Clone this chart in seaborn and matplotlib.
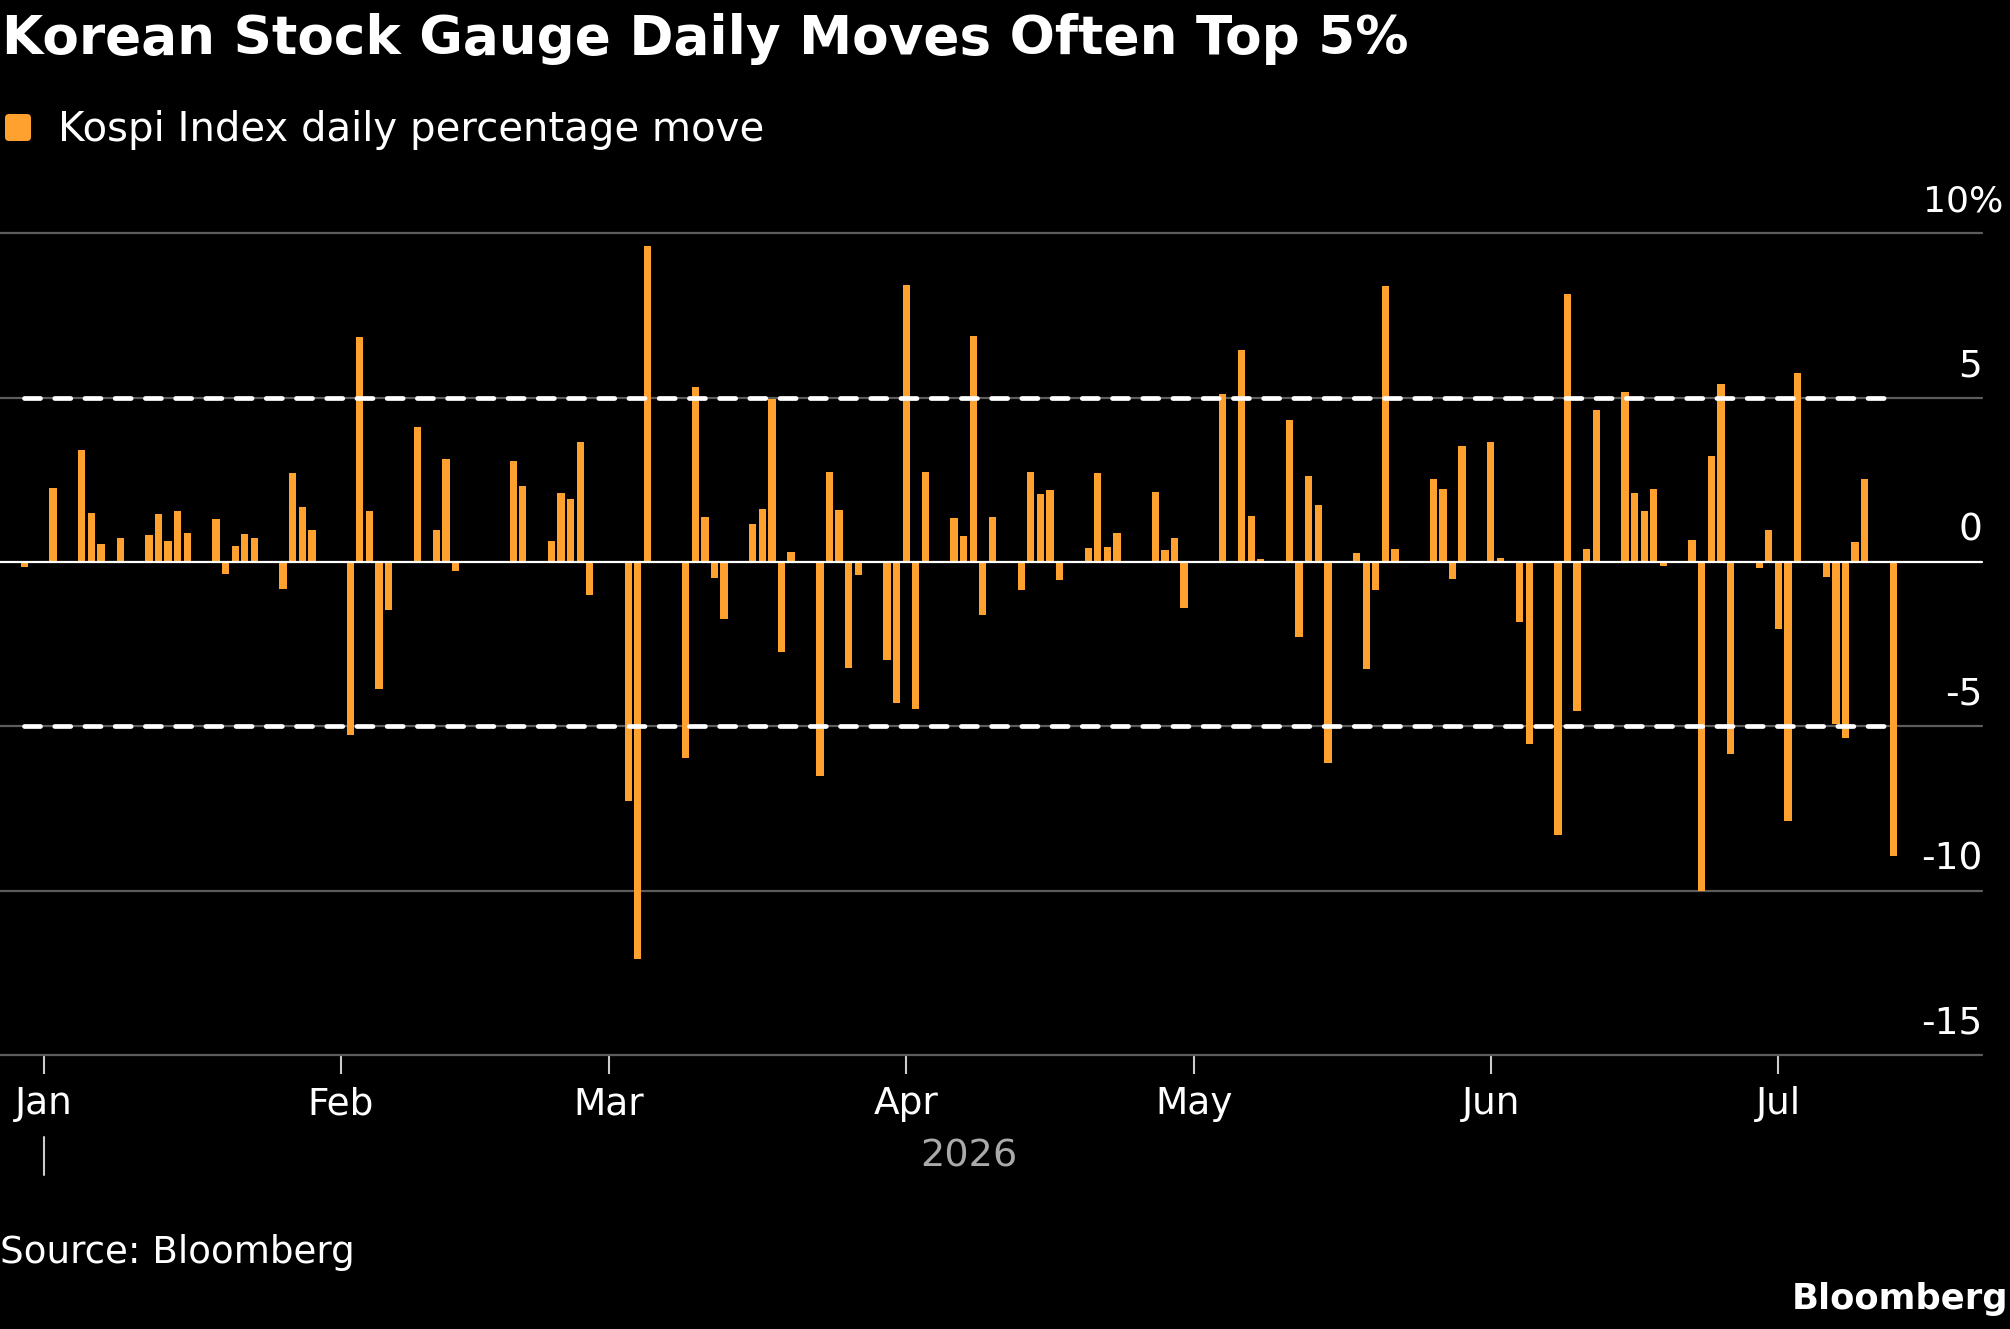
import matplotlib
matplotlib.use("Agg")
import numpy as np
import pandas as pd
import matplotlib.pyplot as plt
import matplotlib.dates as mdates
import matplotlib.transforms as mtransforms
from matplotlib.patches import FancyBboxPatch
import seaborn as sns

# daily Kospi moves (%)
dates = [
    "2025-12-30",
    "2026-01-02", "2026-01-05", "2026-01-06", "2026-01-07", "2026-01-08", "2026-01-09",
    "2026-01-12", "2026-01-13", "2026-01-14", "2026-01-15", "2026-01-16",
    "2026-01-19", "2026-01-20", "2026-01-21", "2026-01-22", "2026-01-23",
    "2026-01-26", "2026-01-27", "2026-01-28", "2026-01-29", "2026-01-30",
    "2026-02-02", "2026-02-03", "2026-02-04", "2026-02-05", "2026-02-06",
    "2026-02-09", "2026-02-10", "2026-02-11", "2026-02-12", "2026-02-13",
    "2026-02-19", "2026-02-20",
    "2026-02-23", "2026-02-24", "2026-02-25", "2026-02-26", "2026-02-27",
    "2026-03-03", "2026-03-04", "2026-03-05",
    "2026-03-09", "2026-03-10", "2026-03-11", "2026-03-12", "2026-03-13",
    "2026-03-16", "2026-03-17", "2026-03-18", "2026-03-19", "2026-03-20",
    "2026-03-23", "2026-03-24", "2026-03-25", "2026-03-26", "2026-03-27",
    "2026-03-30", "2026-03-31", "2026-04-01", "2026-04-02", "2026-04-03",
    "2026-04-06", "2026-04-07", "2026-04-08", "2026-04-09", "2026-04-10",
    "2026-04-13", "2026-04-14", "2026-04-15", "2026-04-16", "2026-04-17",
    "2026-04-20", "2026-04-21", "2026-04-22", "2026-04-23",
    "2026-04-27", "2026-04-28", "2026-04-29", "2026-04-30",
    "2026-05-04", "2026-05-06", "2026-05-07", "2026-05-08",
    "2026-05-11", "2026-05-12", "2026-05-13", "2026-05-14", "2026-05-15",
    "2026-05-18", "2026-05-19", "2026-05-20", "2026-05-21", "2026-05-22",
    "2026-05-26", "2026-05-27", "2026-05-28", "2026-05-29",
    "2026-06-01", "2026-06-02", "2026-06-04", "2026-06-05",
    "2026-06-08", "2026-06-09", "2026-06-10", "2026-06-11", "2026-06-12",
    "2026-06-15", "2026-06-16", "2026-06-17", "2026-06-18", "2026-06-19",
    "2026-06-22", "2026-06-23", "2026-06-24", "2026-06-25", "2026-06-26",
    "2026-06-29", "2026-06-30", "2026-07-01", "2026-07-02", "2026-07-03",
    "2026-07-06", "2026-07-07", "2026-07-08", "2026-07-09", "2026-07-10",
    "2026-07-13",
]
moves = [
    -0.15,
    2.26, 3.41, 1.50, 0.56, 0.02, 0.74,
    0.83, 1.45, 0.65, 1.56, 0.88,
    1.30, -0.38, 0.47, 0.86, 0.74,
    -0.83, 2.71, 1.68, 0.96, 0.02,
    -5.27, 6.83, 1.56, -3.88, -1.45,
    4.09, 0.04, 0.97, 3.13, -0.27,
    3.08, 2.30,
    0.65, 2.11, 1.90, 3.66, -1.02,
    -7.26, -12.08, 9.60,
    -5.97, 5.32, 1.37, -0.50, -1.73,
    1.14, 1.62, 4.96, -2.73, 0.30,
    -6.50, 2.73, 1.58, -3.23, -0.40,
    -2.98, -4.28, 8.44, -4.48, 2.73,
    1.34, 0.80, 6.86, -1.62, 1.37,
    -0.86, 2.73, 2.06, 2.20, -0.56,
    0.41, 2.71, 0.44, 0.88,
    2.14, 0.37, 0.74, -1.39,
    5.10, 6.45, 1.40, 0.09,
    4.31, -2.29, 2.61, 1.73, -6.12,
    0.28, -3.26, -0.86, 8.41, 0.38,
    2.52, 2.23, -0.53, 3.54,
    3.66, 0.12, -1.84, -5.55,
    -8.30, 8.16, -4.53, 0.40, 4.62,
    5.18, 2.09, 1.56, 2.23, -0.12,
    0.66, -10.01, 3.23, 5.41, -5.83,
    -0.19, 0.96, -2.05, -7.89, 5.74,
    -0.47, -4.93, -5.35, 0.62, 2.51,
    -8.95,
]
month_ticks = ["2026-01-01", "2026-02-01", "2026-03-01", "2026-04-01",
               "2026-05-01", "2026-06-01", "2026-07-01"]
month_labels = ["Jan", "Feb", "Mar", "Apr", "May", "Jun", "Jul"]
y_ticks = [10, 5, 0, -5, -10, -15]
threshold = 5
year_label = "2026"

BG = "black"
ORANGE = "#ffa12e"
GRID = "#5c5c5c"

sns.set_theme(style="dark", rc={"axes.facecolor": BG, "figure.facecolor": BG})
plt.rcParams["font.family"] = ["DejaVu Sans"]

df = pd.DataFrame({"date": pd.to_datetime(dates), "move": moves})
df["x"] = mdates.date2num(df["date"])
jan1 = mdates.date2num(pd.Timestamp(month_ticks[0]))

fig = plt.figure(figsize=(20.1, 13.29), dpi=100, facecolor=BG)
ax = fig.add_axes([0, 0.2062, 0.9861, 0.6183])
ax.set_facecolor(BG)

sns.barplot(data=df, x="x", y="move", native_scale=True, color=ORANGE,
            saturation=1, width=0.76, errorbar=None, linewidth=0,
            ax=ax, zorder=3)

# gridlines + zero line
for y in y_ticks:
    if y == 0:
        ax.axhline(y, color="white", lw=1.6, zorder=4, clip_on=False)
    else:
        ax.axhline(y, color=GRID, lw=1.6, zorder=2, clip_on=False)

# +/- 5% dashed guides over the data range
x0, x1 = df["x"].min(), df["x"].max()
for lvl in (threshold, -threshold):
    ax.plot([x0, x1], [lvl, lvl], color="white", lw=3.4, zorder=5,
            dashes=(3.4, 3.0), dash_capstyle="round")

ax.set_ylim(-15, 10)
ax.set_xlim(jan1 - 4.54, jan1 + 202.25)
for s in ax.spines.values():
    s.set_visible(False)
ax.set_yticks([])
ax.set_xlabel("")
ax.set_ylabel("")

ax.set_xticks(mdates.date2num(pd.to_datetime(month_ticks)))
ax.set_xticklabels(month_labels)
ax.tick_params(axis="x", bottom=True, direction="out", length=14, width=1.5,
               color="#cccccc", labelcolor="white", labelsize=27, pad=8.5)

# y labels sit above their gridline at the right edge
for y in y_ticks:
    if y == 10:
        continue
    ax.annotate(str(y), xy=(1, y), xycoords=("axes fraction", "data"),
                xytext=(0, 15.5), textcoords="offset points",
                ha="right", va="baseline", color="white", fontsize=27)
# top label carries the unit and hangs a bit past the gridline
top_tr = mtransforms.blended_transform_factory(fig.transFigure, ax.transData)
ax.annotate("10%", xy=(2003 / 2010, y_ticks[0]), xycoords=top_tr,
            xytext=(0, 15.5), textcoords="offset points",
            ha="right", va="baseline", color="white", fontsize=26)

# year marker under Jan
blend = mtransforms.blended_transform_factory(ax.transData, fig.transFigure)
ax.plot([jan1, jan1], [0.1159, 0.1445], transform=blend, clip_on=False,
        color="#cccccc", lw=1.5)
ax.text((jan1 + x1) / 2, 0.1295, year_label, transform=blend, ha="center",
        va="center", color="#aaaaaa", fontsize=27.5)

# title, legend, footer
fig.text(0.001, 1 - 54 / 1329, "Korean Stock Gauge Daily Moves Often Top 5%",
         fontsize=38.3, fontweight="bold", color="white", va="baseline", ha="left")
fig.add_artist(FancyBboxPatch((0.05, 11.88), 0.26, 0.27,
                              boxstyle="round,pad=0,rounding_size=0.04",
                              transform=fig.dpi_scale_trans,
                              facecolor=ORANGE, edgecolor="none"))
fig.text(58 / 2010, 1 - 141 / 1329, "Kospi Index daily percentage move",
         fontsize=29, color="white", va="baseline", ha="left")
fig.text(0.0, 1 - 1263 / 1329, "Source: Bloomberg", fontsize=26.8,
         color="white", va="baseline", ha="left")
fig.text(2008 / 2010, 1 - 1299 / 1329, "Bloomberg", fontsize=25.5,
         fontweight="bold", color="white", va="center", ha="right")

fig.savefig("out.png", dpi=100, facecolor=BG)
